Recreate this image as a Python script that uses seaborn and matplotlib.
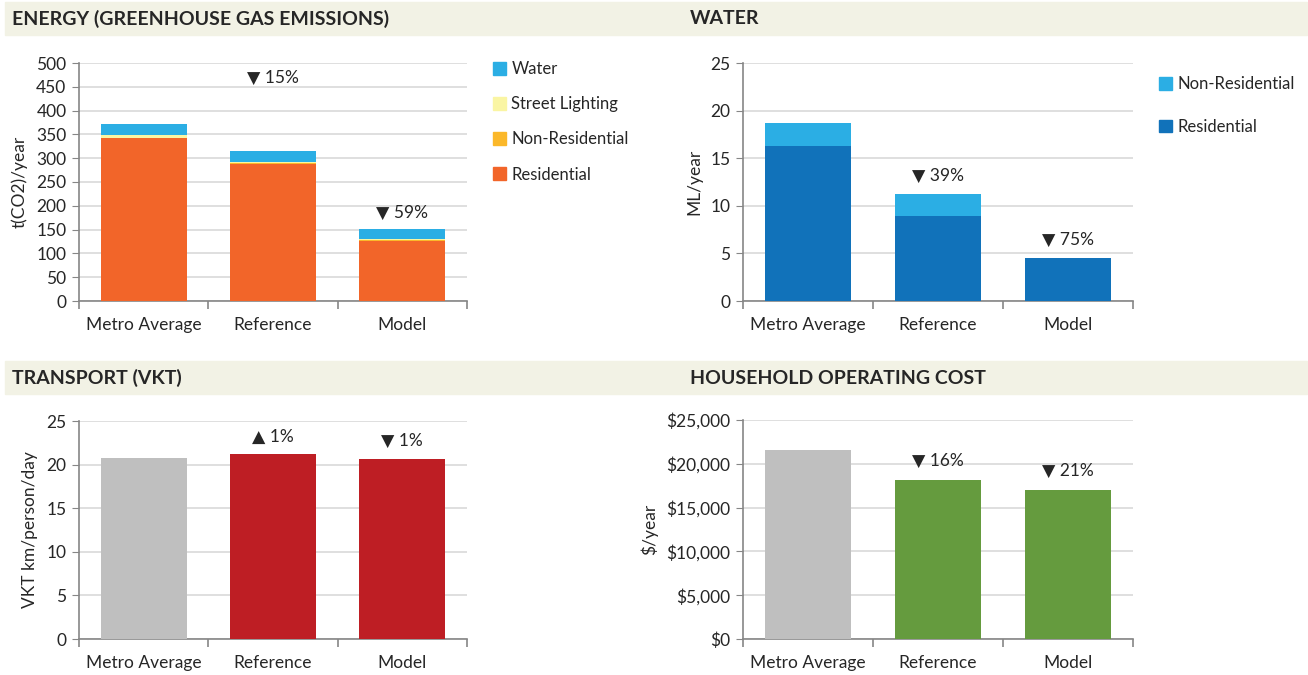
import numpy as np
import pandas as pd
import seaborn as sns
import matplotlib.pyplot as plt
from matplotlib.patches import Rectangle, Patch

# --- data ---
places = ['Metro Average', 'Reference', 'Model']

energy_residential = [342, 288, 127]
energy_nonres = [1, 1, 1]
energy_street = [5, 4, 3]
energy_water = [23, 23, 20]
energy_notes = ['', '\u25BC 15%', '\u25BC 59%']
energy_note_y = [0, 468, 186]

water_residential = [16.25, 8.9, 4.5]
water_nonres = [2.42, 2.3, 0.0]
water_notes = ['', '\u25BC 39%', '\u25BC 75%']
water_note_y = [0, 13.1, 6.4]

vkt = [20.73, 21.22, 20.65]
vkt_notes = ['', '\u25B2 1%', '\u25BC 1%']
vkt_note_y = [0, 23.2, 22.7]

cost = [21600, 18100, 16970]
cost_notes = ['', '\u25BC 16%', '\u25BC 21%']
cost_note_y = [0, 20300, 19150]

# --- style ---
sns.set_style('white')
plt.rcParams['font.family'] = ['Lato', 'DejaVu Sans']
TXT = '#262626'
GRID = '#d9d9d9'
SPINE = '#868686'
BAND = '#f2f2e5'
FS = 12.5
LFS = 12

W, H = 1308, 675
fig = plt.figure(figsize=(W / 100, H / 100), dpi=100)


def px_axes(x0, y_top, x1, y_bot):
    return fig.add_axes([x0 / W, 1 - y_bot / H, (x1 - x0) / W, (y_bot - y_top) / H])


def band(y_top, y_bot):
    fig.patches.append(Rectangle((5 / W, 1 - y_bot / H), (W - 6) / W, (y_bot - y_top) / H,
                                 transform=fig.transFigure, color=BAND, zorder=0))


def header(x, y, text):
    fig.text(x / W, 1 - y / H, text, fontsize=14, fontweight='bold', color=TXT,
             va='center', ha='left')


def stack(ax, layers, colors):
    # draw cumulative totals, tallest first, so each layer shows its own slice
    cum = np.cumsum(np.array(layers, dtype=float), axis=0)
    for vals, col in zip(cum[::-1], colors[::-1]):
        df = pd.DataFrame({'place': places, 'v': vals})
        sns.barplot(data=df, x='place', y='v', color=col, width=0.667,
                    saturation=1, linewidth=0, ax=ax, zorder=3)


def simple(ax, vals, cols):
    df = pd.DataFrame({'place': places, 'v': vals})
    sns.barplot(data=df, x='place', y='v', hue='place', palette=cols, width=0.667,
                saturation=1, linewidth=0, legend=False, ax=ax, zorder=3)


def finish(ax, ymax, step, ylabel, notes, note_y, fmt=None):
    ax.set_xlim(-0.5, 2.5)
    ax.set_ylim(0, ymax)
    ax.set_yticks(np.arange(0, ymax + step / 2, step))
    if fmt:
        ax.yaxis.set_major_formatter(fmt)
    ax.set_xlabel('')
    ax.set_ylabel(ylabel, fontsize=FS, color=TXT, labelpad=6)
    ax.grid(axis='y', color=GRID, lw=1.2, zorder=0)
    ax.set_axisbelow(True)
    for s in ['top', 'right']:
        ax.spines[s].set_visible(False)
    for s in ['left', 'bottom']:
        ax.spines[s].set_color(SPINE)
        ax.spines[s].set_linewidth(1.2)
    ax.tick_params(axis='y', left=True, length=5, color=SPINE, labelsize=FS, labelcolor=TXT, pad=4)
    ax.tick_params(axis='x', bottom=False, labelsize=FS, labelcolor=TXT, pad=8)
    # category-boundary tick marks (Excel style)
    ax.set_xticks([-0.5, 0.5, 1.5, 2.5], minor=True)
    ax.tick_params(axis='x', which='minor', bottom=True, length=6, color=SPINE, width=1.2,
                   direction='out')
    for i, (t, y) in enumerate(zip(notes, note_y)):
        if t:
            ax.text(i, y, t, ha='center', va='center', fontsize=FS, color=TXT)


# header bands
band(2, 35)
band(361, 394)
header(12, 19, 'ENERGY (GREENHOUSE GAS EMISSIONS)')
header(690, 19, 'WATER')
header(12, 378, 'TRANSPORT (VKT)')
header(690, 378, 'HOUSEHOLD OPERATING COST')

# energy
ax1 = px_axes(79, 63, 467, 301)
e_cols = ['#f26529', '#fbb82a', '#faf5a3', '#2baee4']
stack(ax1, [energy_residential, energy_nonres, energy_street, energy_water], e_cols)
finish(ax1, 500, 50, 't(CO2)/year', energy_notes, energy_note_y)
e_labels = ['Residential', 'Non-Residential', 'Street Lighting', 'Water']
handles = [Patch(color=c, label=l) for c, l in zip(e_cols, e_labels)][::-1]
fig.legend(handles=handles, loc='upper left', bbox_to_anchor=(478 / W, 1 - 46 / H),
           frameon=False, fontsize=LFS, labelcolor=TXT, handlelength=0.8, handleheight=0.8,
           handletextpad=0.3, labelspacing=1.15)

# water
ax2 = px_axes(743, 63, 1133, 301)
w_cols = ['#1172ba', '#2baee4']
stack(ax2, [water_residential, water_nonres], w_cols)
finish(ax2, 25, 5, 'ML/year', water_notes, water_note_y)
handles = [Patch(color=c, label=l) for c, l in zip(w_cols, ['Residential', 'Non-Residential'])][::-1]
fig.legend(handles=handles, loc='upper left', bbox_to_anchor=(1144 / W, 1 - 61 / H),
           frameon=False, fontsize=LFS, labelcolor=TXT, handlelength=0.8, handleheight=0.8,
           handletextpad=0.3, labelspacing=1.6)

# transport
ax3 = px_axes(79, 421, 467, 639)
simple(ax3, vkt, ['#bfbfbf', '#be1e24', '#be1e24'])
finish(ax3, 25, 5, 'VKT km/person/day', vkt_notes, vkt_note_y)

# household cost
ax4 = px_axes(743, 420, 1133, 639)
simple(ax4, cost, ['#bfbfbf', '#659b3e', '#659b3e'])
finish(ax4, 25000, 5000, '$/year', cost_notes, cost_note_y,
       fmt=plt.FuncFormatter(lambda v, p: f'${v:,.0f}'))

fig.savefig('out.png', dpi=100)
